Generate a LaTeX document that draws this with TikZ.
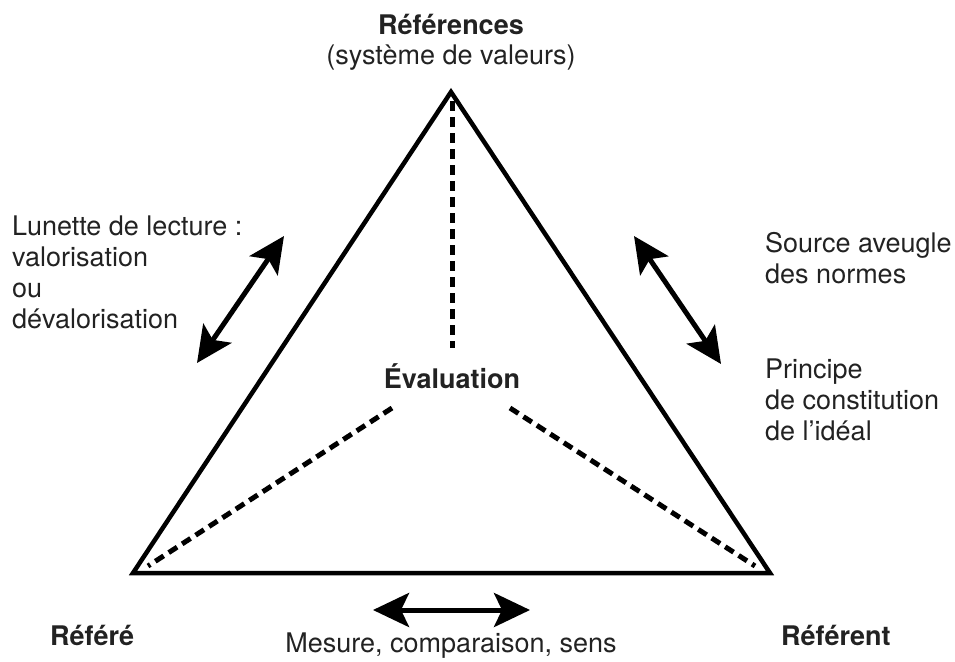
\documentclass[tikz,border=0pt]{standalone}
\usepackage{fontspec}
\setmainfont{TeX Gyre Heros}
\usetikzlibrary{arrows.meta}
\definecolor{txt}{HTML}{222222}
\begin{document}
\begin{tikzpicture}[x=1pt,y=-1pt,
  lbl/.style={inner sep=0pt,text=txt,font=\fontsize{27}{30.8}\selectfont},
  blbl/.style={lbl,font=\fontsize{27}{30.8}\selectfont\bfseries},
  tri/.style={line width=4.5pt,line join=miter,black},
  dsh/.style={line width=5pt,dash pattern=on 10pt off 6pt,black},
  dbl/.style={line width=5pt,black,{Stealth[length=36pt,width=34pt,inset=8pt]}-{Stealth[length=36pt,width=34pt,inset=8pt]}}
]
\useasboundingbox (0,0) rectangle (955,661);
\coordinate (top) at (451,92);
\coordinate (bl) at (133,573);
\coordinate (br) at (770,573);
\draw[tri] (top) -- (bl) -- (br) -- cycle;
% dashed lines
\coordinate (v1) at (452,101);
\coordinate (v2) at (452,348);
\coordinate (l1) at (392,408);
\coordinate (l2) at (148,566);
\coordinate (r1) at (510,408);
\coordinate (r2) at (755,566);
\draw[dsh] (v1) -- (v2);
\draw[dsh] (l1) -- (l2);
\draw[dsh] (r1) -- (r2);
% arrows
\coordinate (a1) at (197,363);
\coordinate (a2) at (284,236);
\coordinate (b1) at (634,236);
\coordinate (b2) at (721,364);
\coordinate (c1) at (373,610);
\coordinate (c2) at (530,610);
\draw[dbl] (a1) -- (a2);
\draw[dbl] (b1) -- (b2);
\draw[dbl] (c1) -- (c2);
% texts
\node[blbl,anchor=base] (ref) at (451,35) {Références};
\node[lbl,anchor=base] (sys) at (451,65) {(système de valeurs)};
\node[lbl,anchor=base west,align=left] (lun) at (12,328) {Lunette de lecture :\\valorisation\\ou\\dévalorisation};
\node[lbl,anchor=base west,align=left] (src) at (765,283) {Source aveugle\\des normes};
\node[lbl,anchor=base west,align=left] (pri) at (765,440) {Principe\\de constitution\\de l’idéal};
\node[blbl,anchor=base] (eva) at (452,388) {Évaluation};
\node[blbl,anchor=base west] (refe) at (50,645) {Référé};
\node[blbl,anchor=base west] (rent) at (781,645) {Référent};
\node[lbl,anchor=base] (mes) at (451,652) {Mesure, comparaison, sens};
\end{tikzpicture}
\end{document}
